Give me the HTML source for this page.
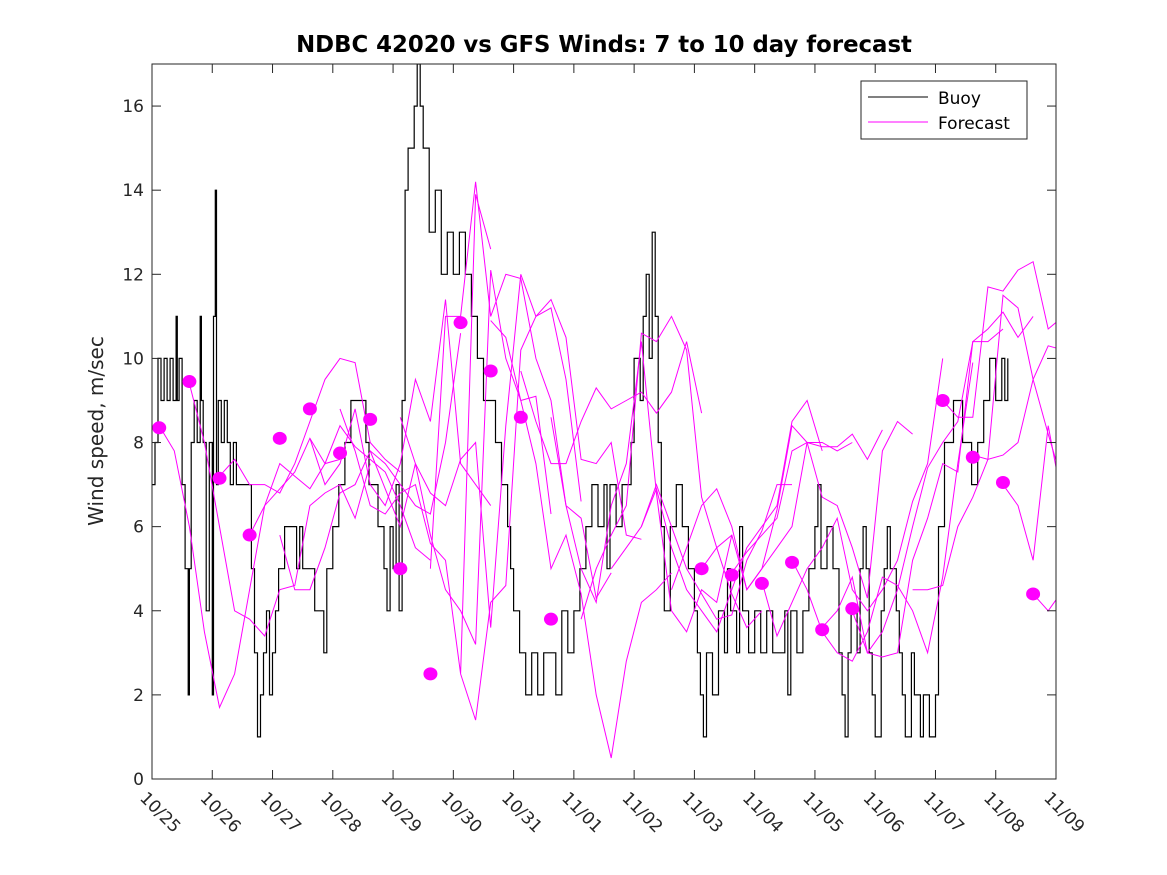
<!DOCTYPE html>
<html><head><meta charset="utf-8"><style>
html,body{margin:0;padding:0;background:#fff;}
svg{display:block;font-family:"DejaVu Sans","Liberation Sans",sans-serif;}
</style></head><body>
<svg id="chart" width="1167" height="875">
<rect width="1167" height="875" fill="#fff"/>
<text x="604" y="52" text-anchor="middle" font-size="22.8" font-weight="bold" fill="#000">NDBC 42020 vs GFS Winds: 7 to 10 day forecast</text>
<text transform="translate(103,431) rotate(-90)" text-anchor="middle" font-size="20" fill="#262626">Wind speed, m/sec</text>
<defs><clipPath id="pc"><rect x="152" y="64" width="904" height="715"/></clipPath></defs>
<g id="series" clip-path="url(#pc)"></g>
<g id="axes"></g>
<g>
<rect x="861" y="81" width="166" height="58" fill="#fff" stroke="#262626" stroke-width="1"/>
<line x1="868" y1="97" x2="928" y2="97" stroke="#000" stroke-width="1"/>
<text x="938" y="104" font-size="17" fill="#000">Buoy</text>
<line x1="868" y1="122" x2="928" y2="122" stroke="#f0f" stroke-width="1"/>
<text x="938" y="129" font-size="17" fill="#000">Forecast</text>
</g>
</svg>
<script>
const xTickLabels=["10/25","10/26","10/27","10/28","10/29","10/30","10/31","11/01","11/02","11/03","11/04","11/05","11/06","11/07","11/08","11/09"];
const yTicks=[0,2,4,6,8,10,12,14,16];
const buoyDays=[0,0.05,0.1,0.15,0.2,0.25,0.3,0.35,0.4,0.42,0.45,0.5,0.55,0.6,0.62,0.65,0.7,0.75,0.8,0.82,0.85,0.9,0.95,1.0,1.02,1.05,1.07,1.1,1.15,1.2,1.25,1.3,1.35,1.4,1.5,1.6,1.65,1.7,1.75,1.8,1.85,1.9,1.95,2.0,2.05,2.1,2.15,2.2,2.3,2.4,2.45,2.5,2.6,2.7,2.8,2.85,2.9,3.0,3.1,3.2,3.3,3.4,3.5,3.55,3.6,3.7,3.75,3.85,3.9,3.95,4.0,4.05,4.1,4.15,4.2,4.25,4.3,4.35,4.4,4.45,4.5,4.6,4.7,4.8,4.9,5.0,5.1,5.2,5.3,5.4,5.5,5.6,5.7,5.8,5.9,5.95,6.0,6.1,6.2,6.3,6.4,6.5,6.6,6.7,6.8,6.9,7.0,7.1,7.2,7.3,7.4,7.5,7.55,7.6,7.7,7.8,7.95,8.0,8.1,8.15,8.2,8.25,8.3,8.35,8.4,8.45,8.5,8.6,8.7,8.8,8.9,9.0,9.05,9.1,9.15,9.2,9.3,9.4,9.5,9.55,9.6,9.7,9.75,9.8,9.9,10.0,10.1,10.2,10.3,10.5,10.55,10.6,10.7,10.8,10.9,11.0,11.05,11.1,11.2,11.3,11.4,11.45,11.5,11.55,11.6,11.7,11.75,11.8,11.85,11.9,11.95,12.0,12.1,12.15,12.2,12.25,12.35,12.4,12.45,12.5,12.6,12.65,12.75,12.8,12.9,13.0,13.05,13.15,13.3,13.45,13.6,13.7,13.8,13.9,14.0,14.1,14.15,14.2];
const buoyValues=[7,8,10,9,10,9,10,9,11,9,10,7,5,2,5,8,9,8,11,9,8,4,8,2,11,14,7,9,8,9,8,7,8,7,7,7,5,3,1,2,3,4,2,3,4,5,5,6,6,5,6,5,5,4,4,3,5,6,7,8,9,9,9,8,7,7,6,5,4,6,5,7,4,9,14,15,15,16,17,16,15,13,14,12,13,12,13,12,11,10,9,9,8,7,6,5,4,3,2,3,2,3,3,2,4,3,4,5,6,7,6,7,5,7,6,7,8,10,9,11,12,10,13,11,8,6,4,6,7,6,5,4,3,2,1,3,2,4,3,5,4,3,6,4,3,4,3,4,3,4,2,4,3,4,5,6,7,5,6,5,3,2,1,3,4,3,5,6,5,3,2,1,4,5,6,5,4,3,2,1,3,2,1,2,1,2,6,8,9,8,7,8,9,10,9,10,9,10,9];
const forecastStarts=[0.12,0.62,1.12,1.62,2.12,2.62,3.12,3.62,4.12,4.62,5.12,5.62,6.12,6.62,7.12,7.62,8.12,8.62,9.12,9.62,10.12,10.62,11.12,11.62,12.62,13.12,13.62,14.12,14.62];
const forecastValues=[
[8.4,7.8,6.0,3.5,1.7,2.5,4.5,6.5,7.5,7.2,6.9,7.5,7.6],
[9.4,8.0,6.0,4.0,3.8,3.4,4.5,4.6,6.5,6.8,7.0,6.2,7.5],
[7.2,7.6,7.0,7.0,6.8,7.5,8.5,9.5,10.0,9.9,8.0,7.6,7.3],
[5.8,6.5,6.9,7.3,8.1,7.5,8.4,7.9,7.6,7.3,6.5,5.5,5.2],
[5.8,4.5,4.5,5.5,6.8,7.0,7.8,7.5,7.0,6.5,6.3,8.0,10.6],
[8.1,7.0,7.5,8.8,7.0,6.5,7.5,9.5,8.5,11.4,7.5,7.0,6.5],
[8.8,7.8,6.5,6.3,6.8,7.0,5.6,5.2,2.5,13.9,12.6],
[7.8,6.9,6.0,7.5,5.8,4.5,4.0,3.2,12.1,10.0,9.0,9.1,6.3],
[8.6,7.5,6.8,6.5,7.6,8.0,3.6,8.4,12.0,11.0,11.2,9.5,6.6],
[5.0,11.0,11.0,14.2,11.0,12.0,11.9,10.0,9.0,6.5,6.2,4.3,4.9],
[2.5,1.4,4.2,4.6,10.2,11.0,11.4,10.5,7.6,7.5,8.0,5.8,5.7],
[10.9,10.5,9.0,7.5,5.0,5.8,4.4,2.0,0.5,2.8,4.2,4.5,4.9],
[9.7,8.5,7.5,7.5,8.5,9.3,8.8,9.0,9.2,8.7,9.2,10.4,8.7],
[8.6,6.5,5.0,4.2,6.5,7.5,10.4,6.8,4.0,3.5,4.5,4.2,5.8],
[3.8,5.0,5.8,6.5,10.6,10.4,11.0,10.2,6.7,5.5,4.4,3.6,4.0],
[5.0,5.5,6.0,7.0,6.0,5.0,4.4,3.8,3.9,5.2,5.9,7.0,7.0],
[6.0,6.9,5.5,4.5,4.0,3.5,4.5,5.5,6.0,6.5,8.5,9.0,7.8],
[4.5,5.5,6.5,6.9,6.0,4.5,5.0,5.5,6.0,8.0,8.0,7.8,8.0],
[5.0,5.5,5.8,4.5,5.0,6.4,8.4,8.0,7.9,7.9,8.2,7.6,8.3],
[4.9,5.4,5.8,6.2,7.8,8.0,6.7,6.5,5.5,4.3,7.8,8.5,8.2],
[4.7,3.4,4.2,5.0,5.5,6.2,4.5,4.0,4.5,5.2,6.6,7.5,10.0],
[5.2,4.5,3.5,3.0,2.8,3.5,4.8,4.6,4.0,3.0,4.8,7.5,9.9],
[3.6,4.0,4.8,3.0,2.9,3.0,5.2,6.2,7.5,7.3,10.4,10.4,10.7],
[4.0,3.0,3.5,4.5,6.0,7.4,8.0,8.5,10.4,10.7,11.1,10.5,11.0],
[4.5,4.5,4.6,6.0,6.7,7.6,11.5,11.2,9.5,8.2,7.0,9.8,9.8],
[9.0,8.6,8.6,11.7,11.6,12.1,12.3,10.7,11.0,9.5,8.8],
[7.7,7.6,7.7,8.0,9.5,10.3,10.2,7.5,6.5,6.0,6.2],
[7.0,6.5,5.2,8.4,6.5,6.0,5.9,6.5],
[4.4,4.0,4.5,5.8]];
const dotDays=[0.12,0.62,1.12,1.62,2.12,2.62,3.12,3.62,4.12,4.62,5.12,5.62,6.12,6.62,9.12,9.62,10.12,10.62,11.12,11.62,13.12,13.62,14.12,14.62];
const dotValues=[8.35,9.45,7.15,5.8,8.1,8.8,7.75,8.55,5.0,2.5,10.85,9.7,8.6,3.8,5.0,4.85,4.65,5.15,3.55,4.05,9.0,7.65,7.05,4.4];
const step=0.25;
const X0=152,X1=1056,Y0=779,Y1=64;
const xs=d=>X0+d*(X1-X0)/15;
const ys=v=>Y0-v*(Y0-Y1)/17;
const NS="http://www.w3.org/2000/svg";
const S=document.getElementById('series'),A=document.getElementById('axes');
function mk(t,at,p){const e=document.createElementNS(NS,t);for(const k in at)e.setAttribute(k,at[k]);p.appendChild(e);return e;}
let d="";
for(let i=0;i<buoyDays.length;i++){const x=xs(buoyDays[i]).toFixed(1),y=ys(buoyValues[i]).toFixed(1);
 if(i===0)d+="M"+x+","+y;else d+="H"+x+"V"+y;}
const bl=mk('path',{d:d,fill:'none',stroke:'#000','stroke-width':1.2},S);


forecastValues.forEach((vals,j)=>{
 const pts=vals.map((v,i)=>xs(forecastStarts[j]+i*step).toFixed(1)+","+ys(v).toFixed(1)).join(" ");
 const pl=mk('polyline',{points:pts,fill:'none',stroke:'#f0f','stroke-width':1},S);
 
 
});
dotDays.forEach((dd,i)=>{
 const c=mk('ellipse',{cx:xs(dd),cy:ys(dotValues[i]),rx:7,ry:6.5,fill:'#f0f'},S);
 
 
});
const box=mk('rect',{x:X0,y:Y1,width:X1-X0,height:Y0-Y1,fill:'none',stroke:'#262626','stroke-width':1},A);


yTicks.forEach(v=>{
 const y=ys(v);
 mk('line',{x1:X0,y1:y,x2:X0+9,y2:y,stroke:'#262626'},A);
 mk('line',{x1:X1,y1:y,x2:X1-9,y2:y,stroke:'#262626'},A);
 const t=mk('text',{x:X0-8,y:y+6,'text-anchor':'end','font-size':17,fill:'#262626'},A);
 t.textContent=v;
 
 
});
xTickLabels.forEach((lab,i)=>{
 const x=xs(i);
 mk('line',{x1:x,y1:Y0,x2:x,y2:Y0-9,stroke:'#262626'},A);
 mk('line',{x1:x,y1:Y1,x2:x,y2:Y1+9,stroke:'#262626'},A);
 const t=mk('text',{transform:'translate('+(x-13)+','+(Y0+20)+') rotate(45)','font-size':17,fill:'#262626'},A);
 t.textContent=lab;
 
 
});
</script>
</body></html>
